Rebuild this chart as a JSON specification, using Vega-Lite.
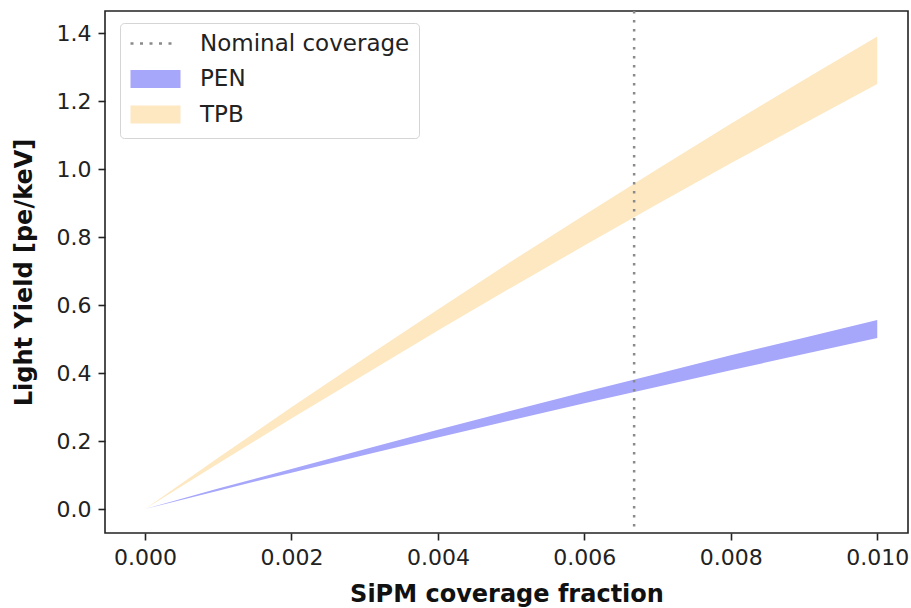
{
  "$schema": "https://vega.github.io/schema/vega-lite/v6.json",
  "width": 803,
  "height": 522,
  "autosize": {"type": "none"},
  "padding": {"left": 105, "top": 11, "right": 3, "bottom": 75},
  "background": "white",
  "config": {
    "font": "DejaVu Sans",
    "view": {"stroke": "#222", "strokeWidth": 1.6},
    "axis": {
      "domain": false,
      "grid": false,
      "tickColor": "#222",
      "tickSize": 7,
      "tickWidth": 1.6,
      "labelFont": "DejaVu Sans",
      "labelFontSize": 22,
      "labelColor": "#222",
      "labelPadding": 7,
      "titleFont": "DejaVu Sans",
      "titleFontSize": 24,
      "titleFontWeight": "bold",
      "titleColor": "#111"
    }
  },
  "layer": [
    {
      "data": {
        "values": [
          {"x": 0.000, "lo": 0.000, "hi": 0.000, "series": "TPB"},
          {"x": 0.001, "lo": 0.134, "hi": 0.151, "series": "TPB"},
          {"x": 0.002, "lo": 0.266, "hi": 0.299, "series": "TPB"},
          {"x": 0.003, "lo": 0.396, "hi": 0.444, "series": "TPB"},
          {"x": 0.004, "lo": 0.525, "hi": 0.587, "series": "TPB"},
          {"x": 0.005, "lo": 0.651, "hi": 0.728, "series": "TPB"},
          {"x": 0.006, "lo": 0.775, "hi": 0.865, "series": "TPB"},
          {"x": 0.007, "lo": 0.897, "hi": 1.000, "series": "TPB"},
          {"x": 0.008, "lo": 1.017, "hi": 1.133, "series": "TPB"},
          {"x": 0.009, "lo": 1.134, "hi": 1.263, "series": "TPB"},
          {"x": 0.010, "lo": 1.250, "hi": 1.390, "series": "TPB"},
          {"x": 0.000, "lo": 0.000, "hi": 0.000, "series": "PEN"},
          {"x": 0.001, "lo": 0.054, "hi": 0.060, "series": "PEN"},
          {"x": 0.002, "lo": 0.107, "hi": 0.118, "series": "PEN"},
          {"x": 0.003, "lo": 0.159, "hi": 0.176, "series": "PEN"},
          {"x": 0.004, "lo": 0.210, "hi": 0.233, "series": "PEN"},
          {"x": 0.005, "lo": 0.261, "hi": 0.289, "series": "PEN"},
          {"x": 0.006, "lo": 0.311, "hi": 0.344, "series": "PEN"},
          {"x": 0.007, "lo": 0.360, "hi": 0.398, "series": "PEN"},
          {"x": 0.008, "lo": 0.408, "hi": 0.452, "series": "PEN"},
          {"x": 0.009, "lo": 0.456, "hi": 0.504, "series": "PEN"},
          {"x": 0.010, "lo": 0.503, "hi": 0.556, "series": "PEN"}
        ]
      },
      "mark": {"type": "area", "opacity": 1},
      "encoding": {
        "x": {
          "field": "x",
          "type": "quantitative",
          "scale": {"domain": [-0.000546, 0.01042], "nice": false, "zero": false},
          "axis": {
            "values": [0, 0.002, 0.004, 0.006, 0.008, 0.01],
            "format": ".3f",
            "title": "SiPM coverage fraction",
            "titlePadding": 14
          }
        },
        "y": {
          "field": "hi",
          "type": "quantitative",
          "stack": null,
          "scale": {"domain": [-0.0706, 1.465], "nice": false, "zero": false},
          "axis": {
            "values": [0, 0.2, 0.4, 0.6, 0.8, 1.0, 1.2, 1.4],
            "format": ".1f",
            "title": "Light Yield [pe/keV]",
            "titlePadding": 20
          }
        },
        "y2": {"field": "lo"},
        "fill": {
          "field": "series",
          "type": "nominal",
          "scale": {
            "domain": ["Nominal coverage", "PEN", "TPB"],
            "range": ["transparent", "#a6a6fb", "#fde8c1"]
          },
          "legend": {
            "orient": "none",
            "legendX": 15,
            "legendY": 12,
            "title": null,
            "labelFont": "DejaVu Sans",
            "labelFontSize": 23,
            "labelColor": "#222",
            "labelLimit": 400,
            "labelOffset": 33,
            "strokeColor": "#d5d5d5",
            "fillColor": "rgba(255,255,255,0.85)",
            "cornerRadius": 4,
            "padding": 9,
            "symbolSize": 400,
            "symbolOffset": 15,
            "rowPadding": 6.5,
            "symbolType": "M-2.5,0L2.5,0L2.5,-0.9L-2.5,-0.9L-2.5,0.9L2.5,0.9L2.5,0Z",
            "symbolDash": [3, 6.5, 3, 6.5, 3, 6.5, 3, 6.5, 3, 600],
            "symbolStrokeWidth": 2.5
          }
        }
      }
    },
    {
      "data": {"values": [{"x": 0.00668, "series": "Nominal coverage"}]},
      "mark": {"type": "rule", "strokeWidth": 2.5},
      "encoding": {
        "x": {"field": "x", "type": "quantitative"},
        "stroke": {
          "field": "series",
          "type": "nominal",
          "scale": {
            "domain": ["Nominal coverage", "PEN", "TPB"],
            "range": ["#8a8a8a", "transparent", "transparent"]
          }
        },
        "strokeDash": {
          "datum": "dotted",
          "scale": {"domain": ["dotted"], "range": [[2.5, 6.5]]},
          "legend": null
        }
      }
    }
  ]
}
